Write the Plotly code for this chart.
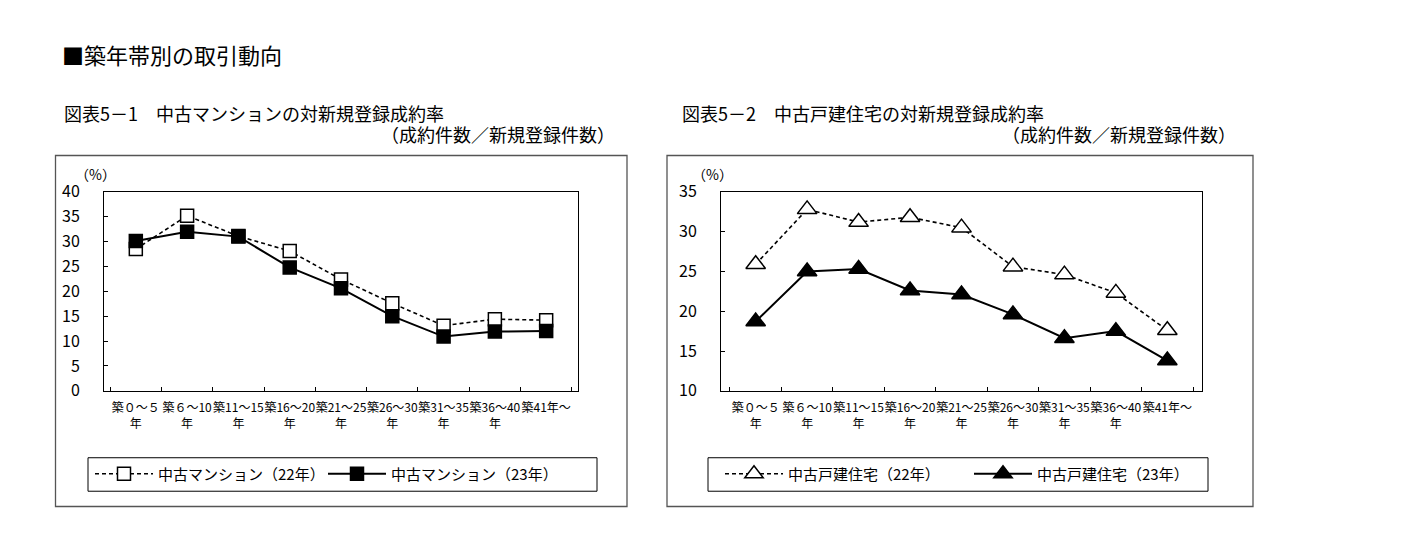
import plotly.graph_objects as go

categories = ["築０～５<br>年", "築６～10<br>年", "築11～15<br>年", "築16～20<br>年",
              "築21～25<br>年", "築26～30<br>年", "築31～35<br>年", "築36～40<br>年", "築41年～"]
mansion_22 = [28.5, 35.2, 31.1, 28.1, 22.4, 17.6, 13.1, 14.4, 14.2]
mansion_23 = [30.1, 32.0, 31.0, 24.8, 20.6, 15.0, 10.9, 11.9, 12.0]
house_22 = [25.9, 32.8, 31.2, 31.8, 30.5, 25.6, 24.6, 22.3, 17.6]
house_23 = [18.7, 25.0, 25.3, 22.6, 22.1, 19.6, 16.6, 17.5, 13.8]

W, H = 1422, 551
FONT = "Noto Sans CJK JP"

def px(x):
    return x / W

def py(y):
    return 1 - y / H

fig = go.Figure()

dash_line = dict(color="black", width=1.6, dash="4px,3px")
solid_line = dict(color="black", width=2)

fig.add_trace(go.Scatter(x=categories, y=mansion_22, name="中古マンション（22年）",
                         mode="lines+markers", xaxis="x", yaxis="y", legend="legend",
                         line=dash_line,
                         marker=dict(symbol="square", size=13, color="white",
                                     line=dict(color="black", width=1.5))))
fig.add_trace(go.Scatter(x=categories, y=mansion_23, name="中古マンション（23年）",
                         mode="lines+markers", xaxis="x", yaxis="y", legend="legend",
                         line=solid_line,
                         marker=dict(symbol="square", size=13, color="black",
                                     line=dict(color="black", width=1.5))))
fig.add_trace(go.Scatter(x=categories, y=house_22, name="中古戸建住宅（22年）",
                         mode="lines+markers", xaxis="x2", yaxis="y2", legend="legend2",
                         line=dash_line,
                         marker=dict(symbol="triangle-up", size=17, color="white",
                                     line=dict(color="black", width=1.5))))
fig.add_trace(go.Scatter(x=categories, y=house_23, name="中古戸建住宅（23年）",
                         mode="lines+markers", xaxis="x2", yaxis="y2", legend="legend2",
                         line=solid_line,
                         marker=dict(symbol="triangle-up", size=17, color="black",
                                     line=dict(color="black", width=1.5))))

xcommon = dict(showgrid=False, showline=True, linecolor="black", linewidth=1, mirror=True,
               ticks="inside", tickson="boundaries", ticklen=4, tickcolor="black",
               ticklabelstandoff=6,
               tickfont=dict(size=12, color="black", family=FONT), tickangle=0,
               fixedrange=True)
ycommon = dict(showgrid=False, showline=True, linecolor="black", linewidth=1, mirror=True,
               ticks="inside", ticklen=4, tickcolor="black", zeroline=False,
               ticklabelstandoff=20,
               tickfont=dict(size=16, color="black", family=FONT), fixedrange=True)

legend_common = dict(orientation="h", yanchor="middle", xanchor="left",
                     borderwidth=0, bgcolor="rgba(0,0,0,0)",
                     font=dict(size=15, family=FONT, color="black"),
                     itemwidth=58, tracegroupgap=0)

fig.update_layout(
    width=W, height=H,
    margin=dict(l=0, r=0, t=0, b=0),
    paper_bgcolor="white", plot_bgcolor="white",
    font=dict(family=FONT, color="black"),
    showlegend=True,
    xaxis=dict(domain=[px(104), px(578)], anchor="y", **xcommon),
    yaxis=dict(domain=[py(395), py(187)], anchor="x", range=[0, 40], dtick=5, **ycommon),
    xaxis2=dict(domain=[px(721), px(1202)], anchor="y2", **xcommon),
    yaxis2=dict(domain=[py(395), py(187)], anchor="x2", range=[10, 35], dtick=5, **ycommon),
    legend=dict(x=px(90), y=py(482), entrywidth=160, **legend_common),
    legend2=dict(x=px(720), y=py(482), entrywidth=176, **legend_common),
    shapes=[
        dict(type="rect", xref="paper", yref="paper", x0=px(55.5), x1=px(627),
             y0=py(516), y1=py(149), line=dict(color="#555555", width=1.3), layer="below"),
        dict(type="rect", xref="paper", yref="paper", x0=px(667), x1=px(1253),
             y0=py(516), y1=py(149), line=dict(color="#555555", width=1.3), layer="below"),
        dict(type="rect", xref="paper", yref="paper", x0=px(88), x1=px(597),
             y0=py(500), y1=py(465), line=dict(color="black", width=1), layer="below"),
        dict(type="rect", xref="paper", yref="paper", x0=px(708), x1=px(1208),
             y0=py(500), y1=py(465), line=dict(color="black", width=1), layer="below"),
    ],
    annotations=[
        dict(text="■築年帯別の取引動向", x=px(60), y=py(43), xref="paper", yref="paper",
             xanchor="left", yanchor="middle", showarrow=False, font=dict(size=22)),
        dict(text="図表5－1　中古マンションの対新規登録成約率", x=px(62), y=py(105),
             xref="paper", yref="paper", xanchor="left", yanchor="middle",
             showarrow=False, font=dict(size=18)),
        dict(text="（成約件数／新規登録件数）", x=px(617), y=py(127),
             xref="paper", yref="paper", xanchor="right", yanchor="middle",
             showarrow=False, font=dict(size=18)),
        dict(text="図表5－2　中古戸建住宅の対新規登録成約率", x=px(680), y=py(105),
             xref="paper", yref="paper", xanchor="left", yanchor="middle",
             showarrow=False, font=dict(size=18)),
        dict(text="（成約件数／新規登録件数）", x=px(1238), y=py(127),
             xref="paper", yref="paper", xanchor="right", yanchor="middle",
             showarrow=False, font=dict(size=18)),
        dict(text="（%）", x=px(96), y=py(168), xref="paper", yref="paper",
             xanchor="center", yanchor="middle", showarrow=False, font=dict(size=14)),
        dict(text="（%）", x=px(713), y=py(168), xref="paper", yref="paper",
             xanchor="center", yanchor="middle", showarrow=False, font=dict(size=14)),
    ],
)

fig.write_html("out.html")
